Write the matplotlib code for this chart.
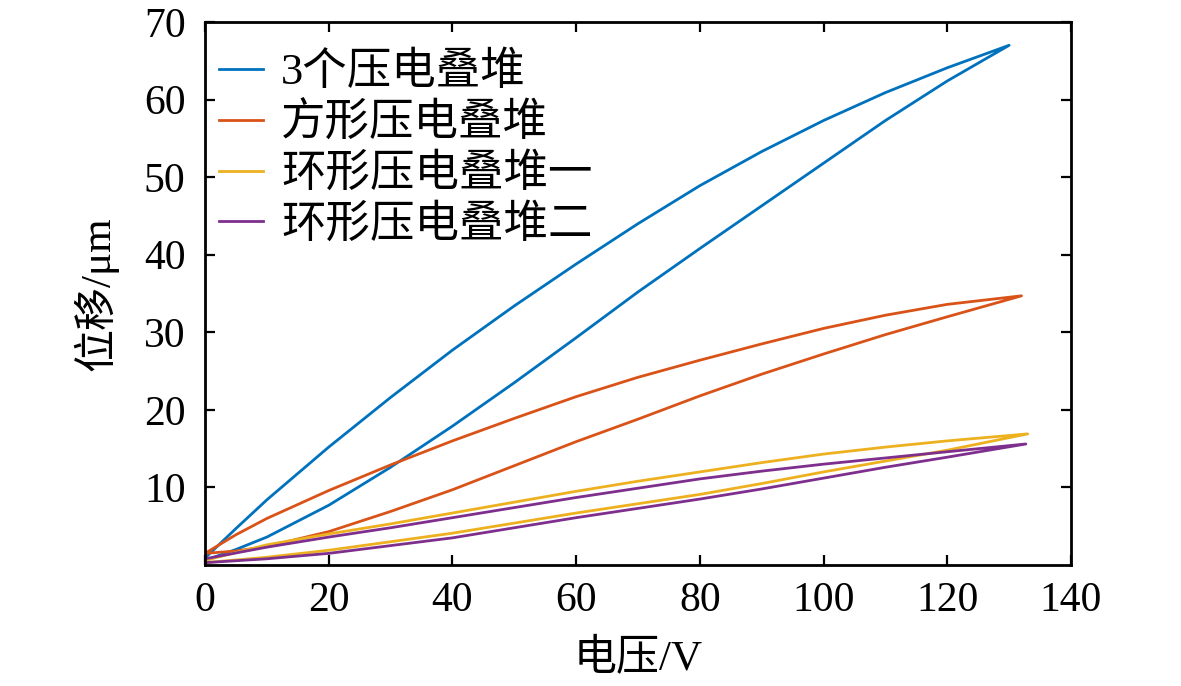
import matplotlib
matplotlib.use("Agg")
import matplotlib.pyplot as plt

plt.rcParams['font.family'] = ['Liberation Serif', 'Noto Sans CJK SC', 'DejaVu Sans']

# ---- data (voltage V, displacement um) ----
labels = ['3个压电叠堆', '方形压电叠堆', '环形压电叠堆一', '环形压电叠堆二']
colors = ['#0072BD', '#D95319', '#EDB120', '#7E2F8E']

# 3 stacks
v1_up = [0, 5, 10, 20, 30, 40, 50, 60, 70, 80, 90, 100, 110, 120, 130]
d1_up = [0.6, 2.0, 3.6, 7.7, 12.6, 17.9, 23.5, 29.3, 35.2, 40.8, 46.3, 51.8, 57.3, 62.4, 67.0]
v1_dn = [130, 120, 110, 100, 90, 80, 70, 60, 50, 40, 30, 20, 10, 5, 0]
d1_dn = [67.0, 64.1, 60.9, 57.3, 53.3, 48.9, 44.0, 38.8, 33.4, 27.7, 21.6, 15.2, 8.4, 4.7, 0.9]

# square stack
v2_up = [0, 5, 10, 20, 30, 40, 50, 60, 70, 80, 90, 100, 110, 120, 132]
d2_up = [1.5, 1.8, 2.4, 4.3, 6.9, 9.7, 12.8, 15.9, 18.8, 21.8, 24.6, 27.2, 29.7, 32.0, 34.7]
v2_dn = [132, 120, 110, 100, 90, 80, 70, 60, 50, 40, 30, 20, 10, 5, 0]
d2_dn = [34.7, 33.6, 32.2, 30.5, 28.5, 26.4, 24.2, 21.7, 18.9, 16.0, 12.9, 9.6, 6.0, 3.9, 1.5]

# ring stack 1
v3_up = [0, 10, 20, 30, 40, 50, 60, 70, 80, 90, 100, 110, 120, 133]
d3_up = [0.3, 1.0, 1.9, 3.0, 4.1, 5.4, 6.7, 7.9, 9.1, 10.5, 12.0, 13.4, 14.8, 16.9]
v3_dn = [133, 120, 110, 100, 90, 80, 70, 60, 50, 40, 30, 20, 10, 0]
d3_dn = [16.9, 16.0, 15.2, 14.3, 13.2, 12.0, 10.8, 9.5, 8.1, 6.7, 5.3, 4.0, 2.6, 0.6]

# ring stack 2
v4_up = [0, 10, 20, 30, 40, 50, 60, 70, 80, 90, 100, 110, 120, 132.7]
d4_up = [0.3, 0.8, 1.5, 2.5, 3.5, 4.8, 6.1, 7.3, 8.5, 9.8, 11.2, 12.6, 13.9, 15.6]
v4_dn = [132.7, 120, 110, 100, 90, 80, 70, 60, 50, 40, 30, 20, 10, 0]
d4_dn = [15.6, 14.6, 13.8, 13.0, 12.1, 11.1, 9.9, 8.7, 7.4, 6.1, 4.8, 3.6, 2.3, 0.8]

x_ticks = [0, 20, 40, 60, 80, 100, 120, 140]
y_ticks = [10, 20, 30, 40, 50, 60, 70]

series = [(v1_up + v1_dn, d1_up + d1_dn),
          (v2_up + v2_dn, d2_up + d2_dn),
          (v3_up + v3_dn, d3_up + d3_dn),
          (v4_up + v4_dn, d4_up + d4_dn)]

fig = plt.figure(figsize=(11.81, 6.86), dpi=100)
ax = fig.add_axes([205/1181, 1-565/686, (1071-205)/1181, (565-22)/686])

for (vx, dy), c, lab in zip(series, colors, labels):
    ax.plot(vx, dy, color=c, lw=2.0, label=lab)

ax.set_xlim(0, 140)
ax.set_ylim(0, 70)
ax.set_xticks(x_ticks)
ax.set_yticks(y_ticks)
ax.tick_params(direction='in', length=7, width=1.6, labelsize=30,
               top=True, right=True)
ax.tick_params(axis='x', pad=12)
ax.tick_params(axis='y', pad=14)
for s in ax.spines.values():
    s.set_linewidth(2.0)

ax.set_xlabel('电压/V', fontsize=31, labelpad=14)
ax.set_ylabel('位移/μm', fontsize=31, labelpad=18)

leg = ax.legend(loc='upper left', bbox_to_anchor=(-0.007, 0.982),
                frameon=False, fontsize=32,
                handlelength=1.0, handletextpad=0.4, labelspacing=0.2,
                borderaxespad=0.3, borderpad=0.15)

fig.savefig('out.png', dpi=100)
